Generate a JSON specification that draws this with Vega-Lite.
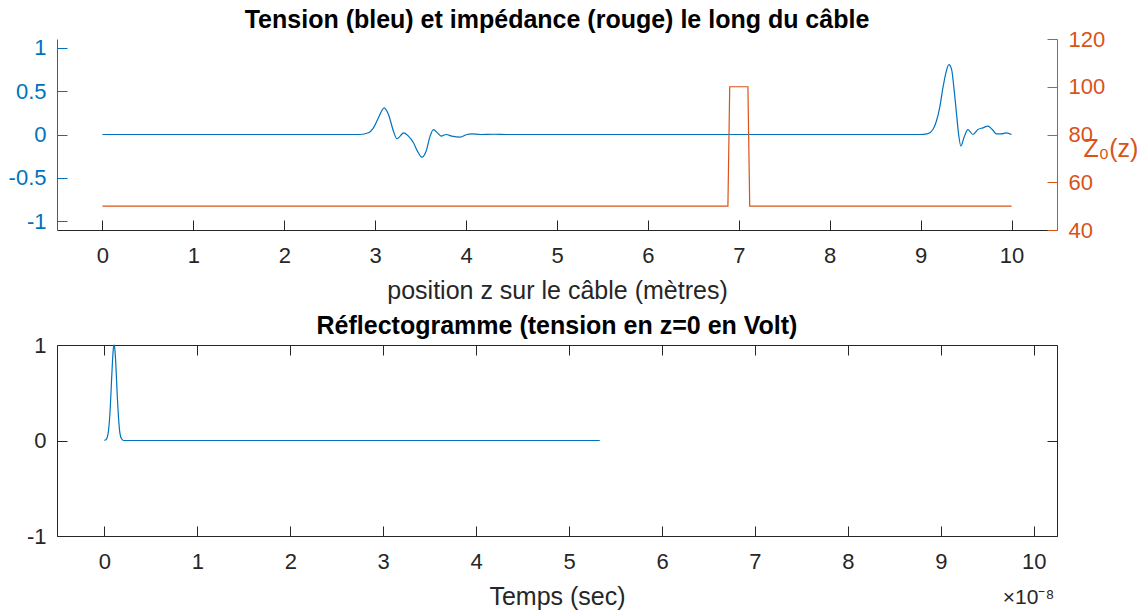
{
  "$schema": "https://vega.github.io/schema/vega-lite/v6.json",
  "padding": {"left": 8, "top": 8, "right": 5, "bottom": 5},
  "spacing": 11,
  "config": {
    "font": "Liberation Sans",
    "view": {"stroke": null},
    "title": {"font": "Liberation Sans", "fontSize": 25, "fontWeight": "bold", "color": "#000000", "offset": -5},
    "axis": {
      "labelFont": "Liberation Sans", "labelFontSize": 22, "titleFont": "Liberation Sans", "titleFontSize": 25,
      "titleFontWeight": "normal", "grid": false, "tickSize": -10, "domainColor": "#262626", "tickColor": "#262626",
      "labelColor": "#262626", "titleColor": "#262626", "labelPadding": 21, "domainWidth": 1, "tickWidth": 1
    }
  },
  "datasets": {
    "tension": [
      {"z": 0, "v": 0}, {"z": 2.835, "v": 0}, {"z": 2.926, "v": 0.02}, {"z": 2.981, "v": 0.077}, {"z": 3.036, "v": 0.192},
      {"z": 3.099, "v": 0.306}, {"z": 3.146, "v": 0.23}, {"z": 3.201, "v": 0.038}, {"z": 3.238, "v": -0.049},
      {"z": 3.275, "v": -0.019}, {"z": 3.311, "v": 0.019}, {"z": 3.366, "v": -0.019}, {"z": 3.421, "v": -0.095},
      {"z": 3.465, "v": -0.192}, {"z": 3.513, "v": -0.261}, {"z": 3.56, "v": -0.192}, {"z": 3.604, "v": -0.019},
      {"z": 3.641, "v": 0.057}, {"z": 3.685, "v": 0.019}, {"z": 3.725, "v": -0.019}, {"z": 3.78, "v": 0},
      {"z": 3.843, "v": -0.019}, {"z": 3.934, "v": -0.031}, {"z": 4.008, "v": 0}, {"z": 4.063, "v": 0.008},
      {"z": 4.154, "v": 0}, {"z": 4.3, "v": 0.003}, {"z": 4.45, "v": 0}, {"z": 8.989, "v": 0}, {"z": 9.08, "v": 0.011},
      {"z": 9.135, "v": 0.057}, {"z": 9.173, "v": 0.153}, {"z": 9.209, "v": 0.307}, {"z": 9.245, "v": 0.537},
      {"z": 9.282, "v": 0.728}, {"z": 9.311, "v": 0.805}, {"z": 9.341, "v": 0.747}, {"z": 9.366, "v": 0.537},
      {"z": 9.392, "v": 0.268}, {"z": 9.418, "v": 0}, {"z": 9.443, "v": -0.134}, {"z": 9.476, "v": -0.038},
      {"z": 9.52, "v": 0.057}, {"z": 9.575, "v": 0}, {"z": 9.63, "v": 0.057}, {"z": 9.685, "v": 0.077},
      {"z": 9.74, "v": 0.096}, {"z": 9.788, "v": 0.057}, {"z": 9.832, "v": 0.008}, {"z": 9.887, "v": 0.008},
      {"z": 9.942, "v": 0.019}, {"z": 10, "v": 0}
    ],
    "impedance": [
      {"z": 0, "Z": 50}, {"z": 6.88, "Z": 50}, {"z": 6.9, "Z": 100}, {"z": 7.1, "Z": 100}, {"z": 7.12, "Z": 50}, {"z": 10, "Z": 50}
    ],
    "reflecto": [
      {"t": 0, "v": 0.001}, {"t": 0.02, "v": 0.011}, {"t": 0.04, "v": 0.073}, {"t": 0.06, "v": 0.29},
      {"t": 0.08, "v": 0.69}, {"t": 0.09, "v": 0.88}, {"t": 0.1, "v": 0.99}, {"t": 0.104, "v": 1.0},
      {"t": 0.11, "v": 0.98}, {"t": 0.12, "v": 0.85}, {"t": 0.14, "v": 0.44}, {"t": 0.16, "v": 0.135},
      {"t": 0.18, "v": 0.025}, {"t": 0.2, "v": 0.003}, {"t": 0.22, "v": 0}, {"t": 5.33, "v": 0}
    ]
  },
  "vconcat": [
    {
      "title": {"text": "Tension (bleu) et impédance (rouge) le long du câble"},
      "width": 1000,
      "height": 191,
      "layer": [
        {
          "data": {"name": "tension"},
          "mark": {"type": "line", "color": "#0072BD", "strokeWidth": 1.2, "interpolate": "monotone"},
          "encoding": {
            "x": {"field": "z", "type": "quantitative", "scale": {"domain": [-0.5, 10.5], "nice": false, "zero": false},
              "axis": {"values": [0,1,2,3,4,5,6,7,8,9,10], "format": "d", "labelPadding": 25, "title": "position z sur le câble (mètres)", "titlePadding": 12}},
            "y": {"field": "v", "type": "quantitative", "scale": {"domain": [-1.1, 1.1], "nice": false},
              "axis": {"orient": "left", "values": [-1, -0.5, 0, 0.5, 1], "title": null,
                "labelExpr": "replace(format(datum.value, '~g'), '\u2212', '-')",
                "domainColor": "#0072BD", "tickColor": "#0072BD", "labelColor": "#0072BD"}}
          }
        },
        {
          "data": {"name": "impedance"},
          "mark": {"type": "line", "color": "#D95319", "strokeWidth": 1.2},
          "encoding": {
            "x": {"field": "z", "type": "quantitative"},
            "y": {"field": "Z", "type": "quantitative", "scale": {"domain": [40, 120], "nice": false, "zero": false},
              "axis": {"orient": "right", "values": [40, 60, 80, 100, 120], "title": "Z₀(z)", "titleAngle": 0,
                "titleX": 26, "titleY": 109, "titleAlign": "left", "titleBaseline": "middle",
                "domainColor": "#D95319", "tickColor": "#D95319", "labelColor": "#D95319", "titleColor": "#D95319"}}
          }
        }
      ],
      "resolve": {"scale": {"y": "independent"}}
    },
    {
      "title": {"text": "Réflectogramme (tension en z=0 en Volt)"},
      "width": 1000,
      "height": 191,
      "data": {"name": "reflecto"},
      "layer": [
        {
          "mark": {"type": "line", "color": "#0072BD", "strokeWidth": 1.2, "interpolate": "monotone"},
          "encoding": {
            "x": {"field": "t", "type": "quantitative", "scale": {"domain": [-0.51, 10.25], "nice": false, "zero": false},
              "axis": {"orient": "bottom", "values": [0,1,2,3,4,5,6,7,8,9,10], "format": "d", "labelPadding": 25, "title": "Temps (sec)", "titlePadding": 12}},
            "y": {"field": "v", "type": "quantitative", "scale": {"domain": [-1, 1], "nice": false},
              "axis": {"orient": "left", "values": [-1, 0, 1], "title": null,
                "labelExpr": "replace(format(datum.value, '~g'), '\u2212', '-')"}}
          }
        },
        {
          "mark": {"type": "line", "opacity": 0},
          "encoding": {
            "x": {"field": "t", "type": "quantitative", "scale": {"domain": [-0.51, 10.25], "nice": false, "zero": false},
              "axis": {"orient": "top", "values": [0,1,2,3,4,5,6,7,8,9,10], "labels": false, "title": "×10⁻⁸",
                "titleFontSize": 21, "titleX": 971, "titleY": 252, "titleAlign": "center", "titleBaseline": "middle"}},
            "y": {"field": "v", "type": "quantitative", "scale": {"domain": [-1, 1], "nice": false},
              "axis": {"orient": "right", "values": [-1, 0, 1], "labels": false, "title": null}}
          }
        }
      ],
      "resolve": {"scale": {"x": "independent", "y": "independent"}}
    }
  ]
}
